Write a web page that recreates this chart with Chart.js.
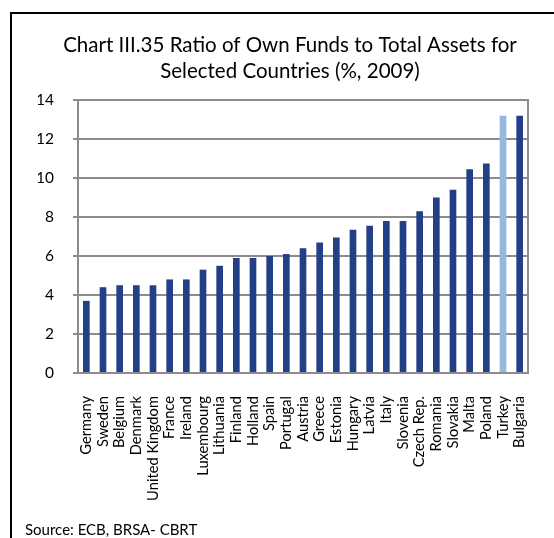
<!DOCTYPE html>
<html>
<head>
<meta charset="utf-8">
<script src="https://cdn.jsdelivr.net/npm/chart.js@4/dist/chart.umd.min.js"></script>
<style>
  body { margin: 0; background: #fff; }
  #frame {
    position: absolute; left: 10px; top: 12px;
    width: 542px; height: 524px;
    border-top: 2px solid #000; border-left: 2px solid #000;
  }
  canvas { display: block; }
  #fuente {
    position: absolute; left: 25px; top: 521px;
    font: 15px Lato, "Noto Sans", sans-serif; color: #000;
    line-height: 17px; white-space: nowrap;
  }
</style>
</head>
<body>
<div id="frame"><canvas id="myChart" width="542" height="524"></canvas></div>
<div id="fuente">Source: ECB, BRSA- CBRT</div>
<script>
// Paises y ratio de fondos propios / activos totales (%, 2009)
const paises = ['Germany', 'Sweden', 'Belgium', 'Denmark', 'United Kingdom', 'France', 'Ireland',
  'Luxembourg', 'Lithuania', 'Finland', 'Holland', 'Spain', 'Portugal', 'Austria', 'Greece',
  'Estonia', 'Hungary', 'Latvia', 'Italy', 'Slovenia', 'Czech Rep.', 'Romania', 'Slovakia',
  'Malta', 'Poland', 'Turkey', 'Bulgaria'];
const ratios = [3.7, 4.4, 4.5, 4.5, 4.5, 4.8, 4.8, 5.3, 5.5, 5.9, 5.9, 6.0, 6.1, 6.4, 6.7,
  6.95, 7.35, 7.55, 7.8, 7.8, 8.3, 9.0, 9.4, 10.45, 10.75, 13.2, 13.2];
const destacado = 'Turkey';
const yTicks = [0, 2, 4, 6, 8, 10, 12, 14];

const azul = '#233f87';
const azulClaro = '#95b8dc';
const gris = '#8c8c8c';
const fuente = 'Lato, "Noto Sans", sans-serif';

new Chart(document.getElementById('myChart'), {
  type: 'bar',
  data: {
    labels: paises,
    datasets: [{
      data: ratios,
      backgroundColor: paises.map(p => p === destacado ? azulClaro : azul),
      barPercentage: 0.4,
      categoryPercentage: 1
    }]
  },
  options: {
    responsive: false,
    animation: false,
    layout: { padding: { left: 26, right: 12, top: 0, bottom: 0 } },
    plugins: {
      legend: { display: false },
      tooltip: { enabled: false },
      title: {
        display: true,
        text: ['Chart III.35 Ratio of Own Funds to Total Assets for', 'Selected Countries (%, 2009)'],
        color: '#000',
        font: { family: fuente, size: 20.5, weight: 'normal', lineHeight: 1.27 },
        padding: { top: 18, bottom: 16 }
      }
    },
    scales: {
      x: {
        grid: { display: false },
        border: { color: gris, width: 2 },
        ticks: {
          color: '#000',
          font: { family: fuente, size: 14.7 },
          maxRotation: 90,
          minRotation: 90,
          autoSkip: false,
          padding: 15
        },
        afterFit(scale) { scale.height = 165; }
      },
      y: {
        min: 0,
        max: 14,
        afterBuildTicks(scale) { scale.ticks = yTicks.map(v => ({ value: v })); },
        grid: { color: gris, lineWidth: 2, tickLength: 5 },
        border: { color: gris, width: 2 },
        ticks: {
          color: '#000',
          font: { family: fuente, size: 15.5 },
          padding: 19
        },
        afterFit(scale) { scale.width = 40; }
      },
      // eje derecho solo para el borde del area de trazado
      y2: {
        position: 'right',
        min: 0,
        max: 14,
        grid: { display: false, drawTicks: false },
        border: { color: gris, width: 2 },
        ticks: { display: false },
        afterFit(scale) { scale.width = 14; }
      }
    }
  }
});
</script>
</body>
</html>
